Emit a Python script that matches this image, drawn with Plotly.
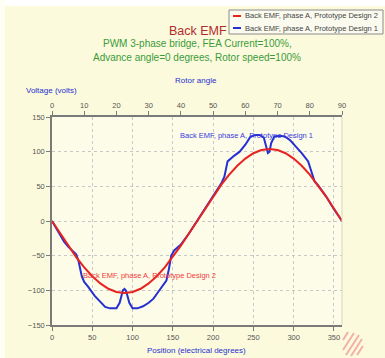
import plotly.graph_objects as go

# Red: Prototype Design 2 (electrical degrees, volts)
red_x = [0, 10, 20, 30, 40, 50, 60, 70, 80, 90, 100, 110, 120, 130, 140, 150, 160, 170, 180,
         190, 200, 210, 220, 230, 240, 250, 260, 270, 280, 290, 300, 310, 320, 330, 340, 350, 360]
red_y = [0, -18, -35.6, -52, -66.8, -79.7, -90, -97.7, -102.4, -104, -102.4, -97.7, -90, -79.7,
         -66.8, -52, -35.6, -18, 0, 18, 35.6, 52, 66.8, 79.7, 90, 97.7, 102.4, 104, 102.4, 97.7,
         90, 79.7, 66.8, 52, 35.6, 18, 0]

# Blue: Prototype Design 1
blue_x = [0, 5, 10, 15, 20, 25, 30, 33, 37, 40, 45, 53, 60, 66, 72, 80, 84, 88, 90, 92, 96, 100,
          106, 113, 120, 126, 132, 138, 142, 145, 148, 152, 160, 170, 180, 190, 200, 210, 214, 218,
          226, 233, 240, 246, 252, 258, 263, 266, 268, 270, 272, 276, 283, 289, 296, 303, 310, 318,
          322, 326, 330, 340, 350, 360]
blue_y = [0, -10, -22, -30, -37, -43, -48, -58, -80, -88, -95, -108, -117, -124, -126, -126, -118,
          -100, -98, -101, -118, -126, -126, -123, -118, -112, -102, -92, -86, -70, -50, -42, -34,
          -18, 0, 18, 36, 54, 64, 86, 94, 100, 110, 121, 124, 124, 120, 104, 98, 100, 112, 122, 123,
          122, 116, 107, 98, 86, 70, 57, 52, 36, 17, 0]

bottom_ticks = [0, 50, 100, 150, 200, 250, 300, 350]
top_ticks = [0, 10, 20, 30, 40, 50, 60, 70, 80, 90]
y_ticks = [-150, -100, -50, 0, 50, 100, 150]

legend_names = ["Back EMF, phase A, Prototype Design 2", "Back EMF, phase A, Prototype Design 1"]

FONT = "Liberation Sans, Arial, sans-serif"
BLUE = "#2630d0"
RED = "#e8221f"
AX = "#7a7a7a"

fig = go.Figure()
fig.add_trace(go.Scatter(x=blue_x, y=blue_y, mode="lines", name=legend_names[1],
                         line=dict(color=BLUE, width=2)))
fig.add_trace(go.Scatter(x=red_x, y=red_y, mode="lines", name=legend_names[0],
                         line=dict(color=RED, width=2)))
# dummy trace for top axis
fig.add_trace(go.Scatter(x=[0, 90], y=[None, None], xaxis="x2", showlegend=False, hoverinfo="skip"))

L, R, T, B = 52, 342, 117, 325
W, H = R - L, B - T
def px(x): return (x - L) / W
def py(y): return (B - y) / H

fig.update_layout(
    width=385, height=358,
    margin=dict(l=L, r=385 - R, t=T, b=358 - B),
    paper_bgcolor="#fcfadd",
    plot_bgcolor="#fdfce9",
    font=dict(family=FONT, size=8, color="#555"),
    showlegend=False,
    xaxis=dict(range=[0, 360], tickvals=bottom_ticks, showline=True, linecolor=AX, linewidth=1.5,
               ticks="outside", ticklen=4, tickcolor=AX, showgrid=True, gridcolor="#c8c8c8",
               griddash="dot", gridwidth=1, zeroline=False, tickfont=dict(size=7.5, color="#555"),
               automargin=False),
    xaxis2=dict(range=[0, 90], tickvals=top_ticks, overlaying="x", side="top", showline=True,
                linecolor=AX, linewidth=1.5, ticks="outside", ticklen=4, tickcolor=AX,
                showgrid=False, zeroline=False, tickfont=dict(size=7.5, color="#555"),
                automargin=False),
    yaxis=dict(range=[-150, 150], tickvals=y_ticks, showline=True, linecolor=AX, linewidth=1.5,
               ticks="outside", ticklen=4, tickcolor=AX, showgrid=True, gridcolor="#c8c8c8",
               griddash="dot", gridwidth=1, zeroline=False, tickfont=dict(size=7.5, color="#555"),
               automargin=False),
)

ann = [
    dict(text="Back EMF", x=px(198), y=py(31), font=dict(size=12.5, color="#b02a2a")),
    dict(text="PWM 3-phase bridge, FEA Current=100%,", x=px(197), y=py(44), font=dict(size=10, color="#3a9a3a")),
    dict(text="Advance angle=0 degrees, Rotor speed=100%", x=px(197), y=py(58), font=dict(size=10, color="#3a9a3a")),
    dict(text="Rotor angle", x=px(196), y=py(81), font=dict(size=8, color=BLUE)),
    dict(text="Voltage (volts)", x=px(51), y=py(90), font=dict(size=8, color=BLUE)),
    dict(text="Position (electrical degrees)", x=px(196), y=py(350), font=dict(size=8, color=BLUE)),
    dict(text="Back EMF, phase A, Prototype Design 1", x=px(246), y=py(135), font=dict(size=7.5, color="#3a3ae0")),
    dict(text="Back EMF, phase A, Prototype Design 2", x=px(149), y=py(275), font=dict(size=7.5, color="#f03a3a")),
]
for a in ann:
    a.update(xref="paper", yref="paper", showarrow=False, xanchor="center", yanchor="middle")
    fig.add_annotation(**a)

# custom legend text
for i, (name, col) in enumerate(zip(legend_names, [RED, BLUE])):
    yy = 16 + i * 12
    fig.add_annotation(text=name, x=px(243), y=py(yy), xref="paper", yref="paper", showarrow=False,
                       xanchor="left", yanchor="middle", font=dict(size=7.5, color="#444"))

shapes = [
    # white strips at top and left edges
    dict(type="rect", x0=px(0), x1=px(385), y0=py(0), y1=py(6), fillcolor="white", line_width=0),
    dict(type="rect", x0=px(0), x1=px(5), y0=py(0), y1=py(358), fillcolor="#fefef5", line_width=0),
    # right border of plot
    dict(type="line", x0=1, x1=1, y0=0, y1=1, line=dict(color="#d8d6c0", width=1)),
    # legend box
    dict(type="rect", x0=px(229), x1=px(383), y0=py(10), y1=py(34), fillcolor="#fbfaee",
         line=dict(color="#8a8a8a", width=1)),
    dict(type="line", x0=px(233), x1=px(241), y0=py(16), y1=py(16), line=dict(color=RED, width=2)),
    dict(type="line", x0=px(233), x1=px(241), y0=py(28), y1=py(28), line=dict(color=BLUE, width=2)),
]
# hatch logo
for (x0, y0, x1, y1) in [(343, 340, 348, 332), (343, 350, 354, 333), (346, 355, 359, 335),
                         (351, 356, 362, 339), (357, 355, 363, 346)]:
    shapes.append(dict(type="line", x0=px(x0), y0=py(y0), x1=px(x1), y1=py(y1),
                       line=dict(color="#f3b0a8", width=2)))
for s in shapes:
    s.update(xref="paper", yref="paper", layer="above")
    fig.add_shape(**s)

fig.write_html("out.html")
